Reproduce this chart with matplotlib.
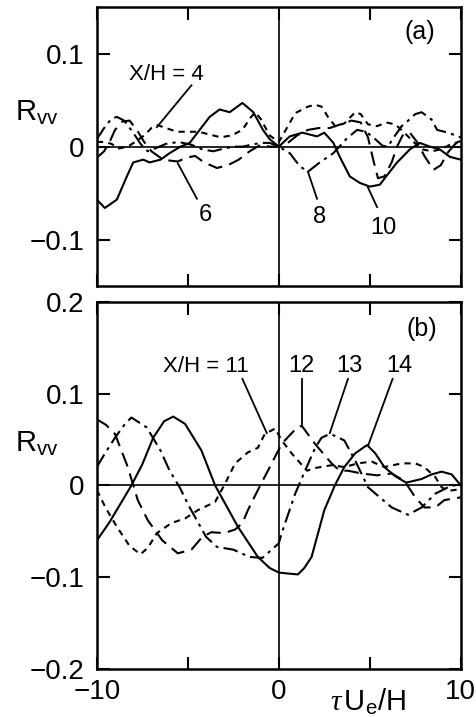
import numpy as np
import matplotlib.pyplot as plt

plt.rcParams['font.family'] = ['Liberation Sans', 'DejaVu Sans']
plt.rcParams['mathtext.fontset'] = 'custom'
plt.rcParams['mathtext.rm'] = 'Liberation Sans'
plt.rcParams['mathtext.it'] = 'Liberation Serif:italic'
plt.rcParams['axes.unicode_minus'] = True

# ---- panel (a) : X/H = 4, 6, 8, 10 ----
a4_x = [-10, -9.6, -9.2, -8.8, -8.3, -7.9, -7.4, -7.0, -6.65, -6.2, -5.6, -5.0, -4.4, -3.8, -3.2, -2.6,
        -2.0, -1.6, -1.3, -1.0, -0.5, 0, 0.5, 0.9, 1.6, 2.0, 2.35, 2.7, 3.1, 3.6, 4.2, 4.5, 4.9, 5.4,
        5.9, 6.4, 6.9, 7.4, 7.9, 8.4, 8.9, 9.4, 10]
a4_y = [0.005, 0.005, 0.003, -0.002, 0.0, 0.005, 0.012, 0.02, 0.023, 0.02, 0.016, 0.016, 0.016, 0.013,
        0.01, 0.012, 0.018, 0.03, 0.037, 0.03, 0.012, 0.005, 0.022, 0.036, 0.043, 0.045, 0.043, 0.032,
        0.022, 0.025, 0.037, 0.035, 0.024, 0.022, 0.026, 0.024, 0.015, 0.005, -0.003, -0.005, -0.003,
        0.002, 0.006]

a6_x = [-10, -9.6, -9.3, -9.0, -8.6, -8.2, -7.8, -7.4, -7.0, -6.5, -6.0, -5.55, -5.1, -4.6, -4.1, -3.4,
        -2.8, -2.2, -1.6, -1.0, -0.5, 0, 0.5, 1.0, 1.6, 2.2, 2.8, 3.4, 4.0, 4.5, 4.9, 5.2, 5.45, 5.8,
        6.2, 6.5, 6.8, 7.2, 7.6, 8.0, 8.5, 8.9, 9.3, 9.7, 10]
a6_y = [-0.012, -0.005, 0.005, 0.018, 0.027, 0.028, 0.018, 0.005, -0.005, -0.012, -0.015, -0.016,
        -0.012, -0.01, -0.017, -0.023, -0.02, -0.014, -0.005, 0.002, 0.0, 0.0, 0.004, 0.012, 0.018,
        0.02, 0.02, 0.024, 0.028, 0.026, 0.01, -0.015, -0.034, -0.032, -0.017, 0.0, 0.012, 0.015,
        0.005, -0.01, -0.025, -0.02, -0.006, 0.003, 0.006]

a8_x = [-10, -9.6, -9.2, -8.9, -8.5, -8.0, -7.6, -7.2, -6.8, -6.2, -5.5, -4.8, -4.2, -3.6, -3.0, -2.5,
        -2.0, -1.5, -1.0, -0.5, 0, 0.6, 1.15, 1.6, 2.25, 3.0, 3.7, 4.3, 4.8, 5.3, 5.7, 6.0, 6.25, 6.75,
        7.0, 7.5, 7.85, 8.4, 8.7, 9.3, 9.85, 10]
a8_y = [0.008, 0.02, 0.03, 0.032, 0.028, 0.015, 0.003, -0.005, -0.002, 0.003, 0.005, 0.002, -0.003,
        -0.005, -0.002, 0.0, 0.0, 0.002, 0.004, 0.004, 0.0, -0.007, -0.021, -0.027, -0.017, -0.007,
        0.008, 0.018, 0.016, 0.008, 0.001, 0.0, 0.008, 0.022, 0.026, 0.035, 0.037, 0.029, 0.018, 0.015,
        0.011, 0.01]

a10_x = [-10, -9.56, -8.9, -8.35, -8.0, -7.45, -7.1, -6.5, -6.0, -5.4, -4.9, -4.35, -3.8, -3.25, -2.7,
         -2.0, -1.4, -0.87, -0.5, 0, 0.6, 1.3, 2.1, 2.5, 3.0, 3.35, 3.9, 4.45, 5.0, 5.55, 5.9, 6.5, 7.2,
         7.75, 8.3, 8.85, 9.4, 10]
a10_y = [-0.057, -0.066, -0.057, -0.032, -0.017, -0.014, -0.017, -0.014, -0.007, 0.0, 0.004, 0.018,
         0.032, 0.04, 0.037, 0.047, 0.037, 0.018, 0.008, 0.0, 0.011, 0.015, 0.011, 0.015, 0.004, -0.011,
         -0.032, -0.039, -0.043, -0.041, -0.032, -0.017, -0.003, 0.004, 0.0, -0.003, -0.011, -0.014]

# ---- panel (b) : X/H = 11, 12, 13, 14 ----
b11_x = [-10, -9.5, -8.9, -8.2, -7.6, -7.2, -6.7, -5.9, -5.15, -4.45, -3.5, -2.95, -2.4, -1.7, -1.15,
         -0.77, -0.2, 0.16, 0.7, 1.55, 2.0, 2.9, 3.6, 4.35, 5.1, 5.8, 6.75, 7.5, 8.0, 8.6, 8.95, 9.3, 10]
b11_y = [-0.005, -0.025, -0.045, -0.066, -0.075, -0.068, -0.052, -0.041, -0.036, -0.027, -0.018, 0.002,
         0.024, 0.036, 0.041, 0.056, 0.062, 0.049, 0.035, 0.016, 0.019, 0.022, 0.02, 0.024, 0.026, 0.02,
         0.024, 0.024, 0.02, 0.009, -0.002, -0.006, -0.004]

b12_x = [-10, -9.5, -9.0, -8.3, -7.75, -7.2, -6.4, -5.55, -4.8, -4.2, -3.7, -3.0, -2.4, -2.0, -1.7,
         -1.15, -0.6, 0.05, 0.33, 1.0, 1.26, 2.0, 2.9, 3.35, 3.8, 4.55, 5.4, 6.2, 6.9, 7.5, 8.0, 8.6,
         9.1, 10]
b12_y = [0.072, 0.066, 0.056, 0.02, -0.016, -0.038, -0.06, -0.074, -0.07, -0.056, -0.051, -0.052,
         -0.048, -0.041, -0.027, -0.005, 0.016, 0.041, 0.049, 0.063, 0.065, 0.045, 0.024, 0.016, 0.016,
         0.013, 0.011, 0.013, 0.005, -0.013, -0.024, -0.024, -0.016, -0.013]

b13_x = [-10, -9.55, -9.0, -8.45, -8.1, -7.25, -6.5, -6.0, -5.45, -4.9, -4.5, -4.0, -3.4, -2.5, -1.6,
         -0.9, 0, 0.16, 0.9, 1.4, 2.0, 2.35, 2.8, 3.08, 3.6, 4.2, 4.9, 5.55, 6.2, 7.1, 7.85, 8.6, 9.3, 10]
b13_y = [0.02, 0.035, 0.052, 0.067, 0.074, 0.063, 0.038, 0.016, -0.002, -0.024, -0.038, -0.056, -0.067,
         -0.07, -0.078, -0.079, -0.063, -0.052, -0.009, 0.014, 0.041, 0.052, 0.056, 0.054, 0.049, 0.027,
         -0.002, -0.013, -0.024, -0.032, -0.024, -0.009, -0.002, 0.002]

b14_x = [-10, -9.3, -8.1, -7.5, -6.9, -6.3, -5.8, -5.15, -4.25, -3.5, -2.25, -1.15, -0.5, 0, 0.5, 1.05,
         1.4, 1.8, 2.5, 3.08, 3.6, 4.2, 4.85, 5.3, 5.8, 6.4, 7.0, 7.85, 8.4, 8.95, 9.5, 10]
b14_y = [-0.06, -0.04, 0.0, 0.023, 0.052, 0.07, 0.075, 0.067, 0.038, 0.0, -0.045, -0.078, -0.09,
         -0.095, -0.096, -0.097, -0.09, -0.078, -0.027, 0.0, 0.02, 0.035, 0.044, 0.035, 0.02, 0.01,
         0.003, 0.007, 0.012, 0.015, 0.012, 0.0]

x_ticks = [-10, -5, 0, 5, 10]
x_ticklabels = ['\u221210', '', '0', '', '10']
ya_ticks = [-0.1, 0, 0.1]
ya_ticklabels = ['\u22120.1', '0', '0.1']
yb_ticks = [-0.2, -0.1, 0, 0.1, 0.2]
yb_ticklabels = ['\u22120.2', '\u22120.1', '0', '0.1', '0.2']

styles = {
    'short': dict(color='black', lw=1.5, linestyle=(0, (3, 2.5))),
    'long': dict(color='black', lw=1.5, linestyle=(0, (7, 3.5))),
    'dashdot': dict(color='black', lw=1.5, linestyle=(0, (7, 2.5, 1.5, 2.5))),
    'solid': dict(color='black', lw=1.5, linestyle='-'),
}

fig = plt.figure(figsize=(4.77, 7.17), dpi=100)
ax_a = fig.add_axes([0.203, 0.601, 0.763, 0.389])
ax_b = fig.add_axes([0.203, 0.067, 0.763, 0.512])


def cadre(ax, yticks, yticklabels, ylim):
    ax.set_xlim(-10, 10)
    ax.set_ylim(*ylim)
    ax.axhline(0, color='black', lw=1.2)
    ax.axvline(0, color='black', lw=1.2)
    ax.set_xticks(x_ticks)
    ax.set_yticks(yticks)
    ax.set_yticklabels(yticklabels)
    ax.tick_params(direction='in', length=9, width=1.5, top=True, right=True,
                   labelsize=20, pad=9)
    for s in ax.spines.values():
        s.set_linewidth(1.8)


cadre(ax_a, ya_ticks, ya_ticklabels, (-0.15, 0.15))
ax_a.set_xticklabels([])
cadre(ax_b, yb_ticks, yb_ticklabels, (-0.2, 0.2))
ax_b.set_xticklabels(x_ticklabels)
ax_b.tick_params(axis='x', pad=7)

ax_a.plot(a4_x, a4_y, **styles['short'])
ax_a.plot(a6_x, a6_y, **styles['long'])
ax_a.plot(a8_x, a8_y, **styles['dashdot'])
ax_a.plot(a10_x, a10_y, **styles['solid'])

ax_b.plot(b11_x, b11_y, **styles['short'])
ax_b.plot(b12_x, b12_y, **styles['long'])
ax_b.plot(b13_x, b13_y, **styles['dashdot'])
ax_b.plot(b14_x, b14_y, **styles['solid'])


# étiquette + trait de rappel (le trait part de 'debut' et touche la courbe en 'fin')
def etiquette(ax, txt, pos, debut, fin, fs=17):
    ax.text(pos[0], pos[1], txt, fontsize=fs, ha='center', va='center')
    ax.plot([debut[0], fin[0]], [debut[1], fin[1]], color='black', lw=1.3)


etiquette(ax_a, 'X/H = 4', (-6.2, 0.078), (-4.8, 0.066), (-6.7, 0.021), fs=16)
etiquette(ax_a, '6', (-4.05, -0.074), (-4.5, -0.056), (-5.55, -0.018))
etiquette(ax_a, '8', (2.25, -0.076), (2.1, -0.056), (1.6, -0.027))
etiquette(ax_a, '10', (5.75, -0.087), (5.4, -0.065), (4.9, -0.044))

etiquette(ax_b, 'X/H = 11', (-4.0, 0.13), (-2.0, 0.116), (-0.66, 0.057), fs=16)
etiquette(ax_b, '12', (1.26, 0.13), (1.26, 0.116), (1.26, 0.065))
etiquette(ax_b, '13', (3.9, 0.13), (3.8, 0.116), (2.8, 0.057))
etiquette(ax_b, '14', (6.6, 0.13), (6.25, 0.116), (4.9, 0.043))

ax_a.text(7.75, 0.123, '(a)', fontsize=18, ha='center', va='center')
ax_b.text(7.85, 0.17, '(b)', fontsize=18, ha='center', va='center')

ax_a.text(-0.165, 0.037, r'$\mathrm{R_{vv}}$', fontsize=21, ha='center', va='center',
          transform=ax_a.get_yaxis_transform())
ax_b.text(-0.165, 0.046, r'$\mathrm{R_{vv}}$', fontsize=21, ha='center', va='center',
          transform=ax_b.get_yaxis_transform())

fig.text(0.771, 0.022, r'$\tau\,\mathrm{U_e/H}$', fontsize=21, ha='center', va='center')

fig.savefig('out.png', dpi=100)
